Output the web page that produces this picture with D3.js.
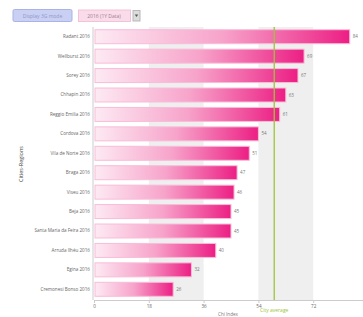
<!DOCTYPE html>
<html><head><meta charset="utf-8">
<script src="https://cdn.jsdelivr.net/npm/d3@7"></script>
<style>body{margin:0;background:#fff;font-family:"Open Sans",sans-serif}</style>
</head><body>
<svg id="c" width="363" height="317"></svg>
<script>
const cities = ["Radant 2016","Wellburst 2016","Sorey 2016","Chhapin 2016","Reggio Emilia 2016","Cordova 2016","Vila de Norte 2016","Braga 2016","Viseu 2016","Beja 2016","Santa Maria da Feira 2016","Arruda Ilhéu 2016","Egina 2016","Cremonesi Bonso 2016"];
const values = [84, 69, 67, 63, 61, 54, 51, 47, 46, 45, 45, 40, 32, 26];
const xTicks = [0, 18, 36, 54, 72];
const cityAverage = 59.2;
const buttonLabels = ["Display 3G mode", "2016 (1Y Data)"];
const axisTitles = {x: "Chi Index", y: "Cities-Regions", avg: "City average"};

const svg = d3.select("#c");
const x = d3.scaleLinear().domain([0, 90]).range([94, 368]);
const y = d3.scaleBand().domain(cities).range([27, 299]).paddingInner(0.28).paddingOuter(0.14);
const plotTop = 27, plotBottom = 300;

// controls
const ctrl = svg.append("g");
ctrl.append("rect").attr("x",13).attr("y",9.5).attr("width",59).attr("height",12).attr("rx",1.5)
  .attr("fill","#c9d0f3").attr("stroke","#a9b3e6");
ctrl.append("text").attr("x",42.5).attr("y",17.8).attr("text-anchor","middle").attr("font-size",5).attr("fill","#8f98c9").text(buttonLabels[0]);
ctrl.append("rect").attr("x",78.5).attr("y",10).attr("width",52).attr("height",11.5)
  .attr("fill","#fadbe9").attr("stroke","#f0c4d8");
ctrl.append("text").attr("x",104).attr("y",17.8).attr("text-anchor","middle").attr("font-size",5).attr("fill","#9a8090").text(buttonLabels[1]);
ctrl.append("rect").attr("x",133).attr("y",10.5).attr("width",7).attr("height",10.5)
  .attr("fill","#dcdcdc").attr("stroke","#b8b8b8");
ctrl.append("path").attr("d","M134.8,14.5 L138.2,14.5 L136.5,17 Z").attr("fill","#555");

// bands
const bands = [[18,36],[54,72]];
svg.append("g").selectAll("rect").data(bands).join("rect")
  .attr("x", d => x(d[0])).attr("width", d => x(d[1]) - x(d[0]))
  .attr("y", plotTop).attr("height", plotBottom - plotTop).attr("fill", "#efefef");

// gradient
const defs = svg.append("defs");
const grad = defs.append("linearGradient").attr("id","g").attr("x1","0").attr("x2","1").attr("y1","0").attr("y2","0");
grad.append("stop").attr("offset","0").attr("stop-color","#fdeaf3");
grad.append("stop").attr("offset","0.5").attr("stop-color","#f7a3ca");
grad.append("stop").attr("offset","1").attr("stop-color","#ec1f84");

// bars
svg.append("g").selectAll("rect").data(cities).join("rect")
  .attr("x", x(0) + 1).attr("y", d => y(d))
  .attr("width", (d,i) => x(values[i]) - x(0) - 1).attr("height", y.bandwidth())
  .attr("fill","url(#g)").attr("stroke","#f8bcd8").attr("stroke-width",1);

// value labels
svg.append("g").selectAll("text").data(cities).join("text")
  .attr("x", (d,i) => x(values[i]) + 3).attr("y", d => y(d) + y.bandwidth()/2 + 1.6)
  .attr("font-size", 4.5).attr("fill","#777").text((d,i) => values[i]);

// axes
const yAxis = svg.append("g").attr("transform",`translate(${x(0)-1},0)`)
  .call(d3.axisLeft(y).tickSize(0).tickPadding(3));
yAxis.select(".domain").attr("stroke","#ccc").attr("d",`M0,${plotTop}V${plotBottom}`);
yAxis.selectAll("text").attr("font-size",4.6).attr("fill","#666").attr("font-family","Open Sans, sans-serif");

const xAxis = svg.append("g").attr("transform",`translate(0,${plotBottom})`)
  .call(d3.axisBottom(x).tickValues(xTicks).tickSize(3).tickPadding(2));
xAxis.select(".domain").attr("stroke","#ccc");
xAxis.selectAll("line").attr("stroke","#ccc");
xAxis.selectAll("text").attr("font-size",4.6).attr("fill","#666").attr("font-family","Open Sans, sans-serif");

// average line
svg.append("line").attr("x1",x(cityAverage)).attr("x2",x(cityAverage)).attr("y1",plotTop).attr("y2",plotBottom)
  .attr("stroke","#9cc43a").attr("stroke-width",1.3);
svg.append("text").attr("x",x(cityAverage)).attr("y",311.5).attr("text-anchor","middle")
  .attr("font-size",5).attr("fill","#9cc43a").text(axisTitles.avg);

// titles
svg.append("text").attr("x",228).attr("y",316).attr("text-anchor","middle").attr("font-size",4.6).attr("fill","#777").text(axisTitles.x);
svg.append("text").attr("transform","translate(23,164) rotate(-90)").attr("text-anchor","middle")
  .attr("font-size",5.5).attr("fill","#444").text(axisTitles.y);
</script>
</body></html>
